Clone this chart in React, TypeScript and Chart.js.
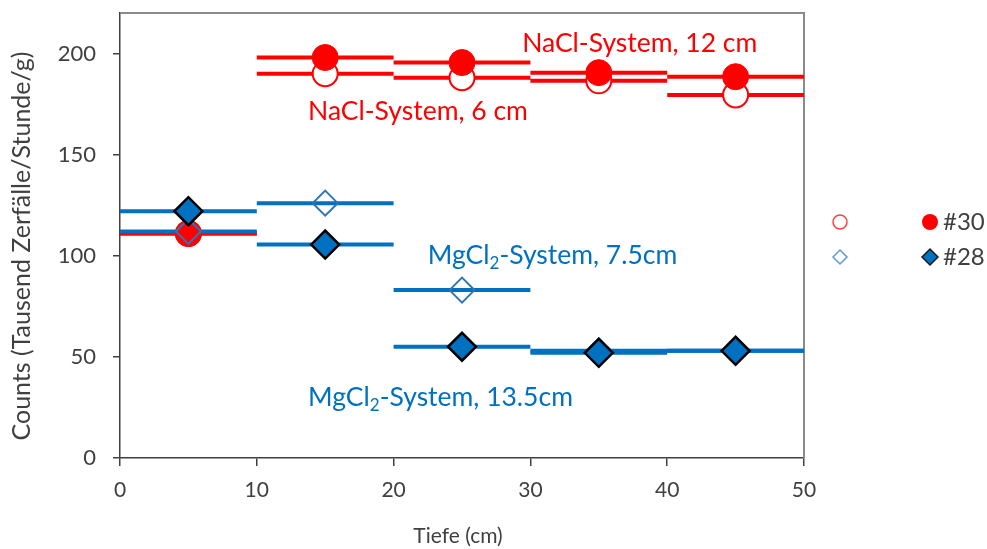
import React, { useEffect, useRef } from 'react';
import { Chart, registerables } from 'chart.js';

Chart.register(...registerables);

// ---- data ----
const depthFrom = [0, 10, 20, 30, 40];
const depthTo = [10, 20, 30, 40, 50];
const depthMid = [5, 15, 25, 35, 45];
const nacl6 = [111, 190, 188, 186.5, 179.5];
const nacl12 = [111, 198, 195.5, 190.5, 188.5];
const mgcl75 = [112, 126, 83, 53, 53];
const mgcl135 = [122, 105.5, 55, 52, 53];
const xTicks = [0, 10, 20, 30, 40, 50];
const yTicks = [0, 50, 100, 150, 200];
const xTitle = 'Tiefe (cm)';
const yTitle = 'Counts (Tausend Zerfälle/Stunde/g)';
const legendLabels = ['#30', '#28'];
const annotationTexts = [
  { pre: 'NaCl-System, 12 cm', sub: '', post: '' },
  { pre: 'NaCl-System, 6 cm', sub: '', post: '' },
  { pre: 'MgCl', sub: '2', post: '-System, 7.5cm' },
  { pre: 'MgCl', sub: '2', post: '-System, 13.5cm' },
];

const RED = '#FF0000';
const BLUE = '#0070C0';
const BLUE_OPEN = '#2E75B6';
const TXT = '#404040';
const FONT = 'Lato, "Open Sans", sans-serif';

const seg = (vals: number[]) =>
  vals.flatMap((v, i) => [
    { x: depthFrom[i], y: v },
    { x: depthTo[i], y: v },
    { x: depthTo[i], y: null },
  ]);
const pts = (vals: number[]) => vals.map((v, i) => ({ x: depthMid[i], y: v }));

// anchors in data units: [x left, y center]
const annotationAnchors = [
  [29.4, 205, RED],
  [13.75, 171.5, RED],
  [22.5, 100, BLUE],
  [13.75, 29.7, BLUE],
];

const overlayPlugin = {
  id: 'overlay',
  beforeDatasetsDraw(chart: any) {
    const { ctx, chartArea: a } = chart;
    ctx.save();
    ctx.strokeStyle = '#8a8a8a';
    ctx.lineWidth = 2;
    ctx.beginPath();
    ctx.moveTo(a.left, a.top);
    ctx.lineTo(a.right, a.top);
    ctx.lineTo(a.right, a.bottom);
    ctx.stroke();
    ctx.restore();
  },
  afterDraw(chart: any) {
    const { ctx, scales } = chart;
    const xs = scales.x;
    const ys = scales.y;
    ctx.save();
    // annotations
    const fs = 26.5;
    annotationTexts.forEach((t, i) => {
      const [ax, ay, col] = annotationAnchors[i] as any;
      let px = xs.getPixelForValue(ax);
      const py = ys.getPixelForValue(ay);
      ctx.fillStyle = col;
      ctx.textBaseline = 'middle';
      ctx.textAlign = 'left';
      ctx.font = `${fs}px ${FONT}`;
      ctx.fillText(t.pre, px, py);
      px += ctx.measureText(t.pre).width;
      if (t.sub) {
        ctx.font = `${Math.round(fs * 0.65)}px ${FONT}`;
        ctx.fillText(t.sub, px, py + fs * 0.28);
        px += ctx.measureText(t.sub).width;
        ctx.font = `${fs}px ${FONT}`;
        ctx.fillText(t.post, px, py);
      }
    });
    // axis titles
    ctx.fillStyle = TXT;
    ctx.textAlign = 'center';
    ctx.textBaseline = 'middle';
    ctx.font = `21px ${FONT}`;
    ctx.fillText(xTitle, 458, 536);
    ctx.save();
    ctx.translate(22, 246);
    ctx.rotate(-Math.PI / 2);
    ctx.font = `25px ${FONT}`;
    ctx.fillText(yTitle, 0, 0);
    ctx.restore();
    // legend
    const lx1 = 840, lx2 = 930, ly1 = 222, ly2 = 257;
    ctx.lineWidth = 1.5;
    ctx.strokeStyle = '#FF4040';
    ctx.fillStyle = '#fff';
    ctx.beginPath();
    ctx.arc(lx1, ly1, 7, 0, Math.PI * 2);
    ctx.fill();
    ctx.stroke();
    ctx.fillStyle = RED;
    ctx.beginPath();
    ctx.arc(lx2, ly1, 8, 0, Math.PI * 2);
    ctx.fill();
    const diamond = (x: number, y: number, r: number) => {
      ctx.beginPath();
      ctx.moveTo(x - r, y);
      ctx.lineTo(x, y - r);
      ctx.lineTo(x + r, y);
      ctx.lineTo(x, y + r);
      ctx.closePath();
    };
    ctx.strokeStyle = '#5B9BD5';
    diamond(lx1, ly2, 7);
    ctx.stroke();
    ctx.fillStyle = BLUE;
    ctx.strokeStyle = '#1a1a1a';
    diamond(lx2, ly2, 8);
    ctx.fill();
    ctx.stroke();
    ctx.fillStyle = TXT;
    ctx.textAlign = 'left';
    ctx.font = `24px ${FONT}`;
    ctx.fillText(legendLabels[0], 943, ly1);
    ctx.fillText(legendLabels[1], 943, ly2);
    ctx.restore();
  },
};

export default function App() {
  const ref = useRef<HTMLCanvasElement>(null);
  useEffect(() => {
    if (!ref.current) return;
    const lineDs = (vals: number[], color: string, order: number) => ({
      data: seg(vals),
      showLine: true,
      borderColor: color,
      backgroundColor: color,
      borderWidth: 4,
      borderCapStyle: 'butt',
      pointRadius: 0,
      spanGaps: false,
      order,
    });
    const chart = new Chart(ref.current, {
      type: 'scatter',
      data: {
        datasets: [
          {
            data: pts(mgcl135),
            pointStyle: 'rectRot',
            pointRadius: 14,
            backgroundColor: BLUE,
            borderColor: '#000',
            borderWidth: 2.5,
            order: 1,
          },
          {
            data: pts(mgcl75),
            pointStyle: 'rectRot',
            pointRadius: 12.5,
            backgroundColor: 'rgba(0,0,0,0)',
            borderColor: BLUE_OPEN,
            borderWidth: 2,
            order: 2,
          },
          {
            data: pts(nacl12),
            pointStyle: 'circle',
            pointRadius: 13,
            backgroundColor: RED,
            borderColor: RED,
            borderWidth: 1,
            order: 3,
          },
          {
            data: pts(nacl6),
            pointStyle: 'circle',
            pointRadius: 12.5,
            backgroundColor: '#fff',
            borderColor: RED,
            borderWidth: 2,
            order: 4,
          },
          lineDs(mgcl135, BLUE, 5),
          lineDs(mgcl75, BLUE, 6),
          lineDs(nacl12, RED, 7),
          lineDs(nacl6, RED, 8),
        ] as any,
      },
      options: {
        animation: false,
        responsive: true,
        maintainAspectRatio: false,
        events: [],
        layout: { autoPadding: false, padding: { left: 0, top: 13, right: 183, bottom: 0 } },
        plugins: { legend: { display: false }, tooltip: { enabled: false } },
        scales: {
          x: {
            type: 'linear',
            min: 0,
            max: 50,
            afterBuildTicks: (s: any) => {
              s.ticks = xTicks.map((v) => ({ value: v }));
            },
            afterFit: (s: any) => {
              s.height = 91;
              s.paddingLeft = 0;
              s.paddingRight = 0;
            },
            ticks: { color: TXT, font: { size: 21, family: FONT }, padding: 12, maxRotation: 0 },
            grid: { drawOnChartArea: false, drawTicks: true, tickLength: 8, color: TXT, lineWidth: 1.5 },
            border: { display: true, color: TXT, width: 1.5 },
          },
          y: {
            type: 'linear',
            min: 0,
            max: 220,
            afterBuildTicks: (s: any) => {
              s.ticks = yTicks.map((v) => ({ value: v }));
            },
            afterFit: (s: any) => {
              s.width = 120;
              s.paddingTop = 0;
              s.paddingBottom = 0;
            },
            ticks: { color: TXT, font: { size: 22, family: FONT }, padding: 17 },
            grid: { drawOnChartArea: false, drawTicks: true, tickLength: 7, color: TXT, lineWidth: 1.5 },
            border: { display: true, color: TXT, width: 1.5 },
          },
        },
      } as any,
      plugins: [overlayPlugin],
    });
    return () => chart.destroy();
  }, []);
  return (
    <div style={{ position: 'absolute', left: 0, top: 0, width: 987, height: 549, background: '#fff' }}>
      <canvas ref={ref} />
    </div>
  );
}
